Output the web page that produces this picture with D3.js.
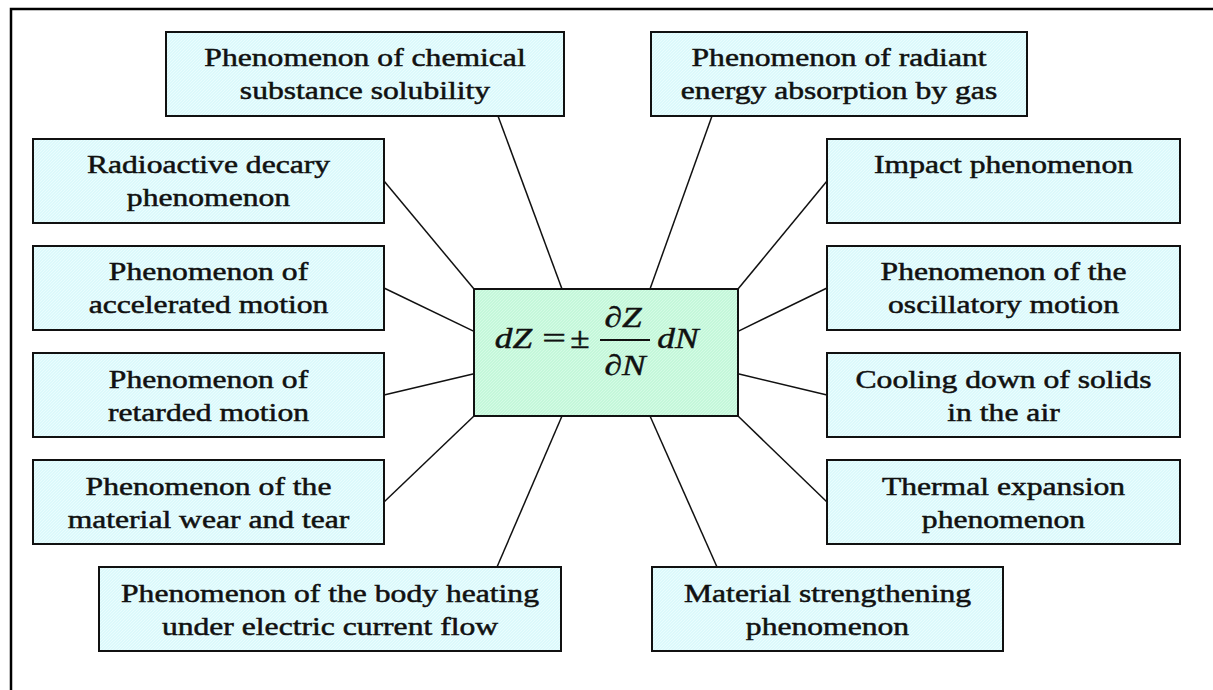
<!DOCTYPE html>
<html>
<head>
<meta charset="utf-8">
<script src="https://cdn.jsdelivr.net/npm/d3@7"></script>
<style>
  html, body { margin: 0; padding: 0; background: #fff; }
  svg { display: block; }
  .lbl { font-family: "Liberation Serif", "Times New Roman", serif; font-size: 25.5px; fill: #111; stroke: #111; stroke-width: 0.5px; }
  .fml { font-family: "Liberation Serif", "Times New Roman", serif; font-size: 29px; fill: #111; stroke: #111; stroke-width: 0.45px; }
</style>
</head>
<body>
<svg width="1213" height="690"></svg>
<script>
// labels of the phenomena (top row, left column, right column, bottom row)
const topLabels = [
  ["Phenomenon of chemical", "substance solubility"],
  ["Phenomenon of radiant", "energy absorption by gas"]
];
const leftLabels = [
  ["Radioactive decary", "phenomenon"],
  ["Phenomenon of", "accelerated motion"],
  ["Phenomenon of", "retarded motion"],
  ["Phenomenon of the", "material wear and tear"]
];
const rightLabels = [
  ["Impact phenomenon"],
  ["Phenomenon of the", "oscillatory motion"],
  ["Cooling down of solids", "in the air"],
  ["Thermal expansion", "phenomenon"]
];
const bottomLabels = [
  ["Phenomenon of the body heating", "under electric current flow"],
  ["Material strengthening", "phenomenon"]
];
const rows = [0, 1, 2, 3, 4, 5];

const svg = d3.select("svg");
const W = 1213, H = 690;
const stretch = 1.24; // text in the picture is widened

// row positions
const y = d3.scaleBand().domain(rows).range([32, 651]).paddingInner(0.215).paddingOuter(0);
const bh = y.bandwidth();

// hatch patterns
const defs = svg.append("defs");
function hatch(id, base, line) {
  const p = defs.append("pattern").attr("id", id)
    .attr("width", 3).attr("height", 3)
    .attr("patternUnits", "userSpaceOnUse");
  p.append("rect").attr("width", 3).attr("height", 3).attr("fill", base);
  p.append("path").attr("d", "M0,3L3,0").attr("stroke", line).attr("stroke-width", 0.8);
}
hatch("cyan", "#dcf9fb", "#eefeff");
hatch("green", "#c4f7da", "#d9fce9");

// outer frame (only top and left visible)
svg.append("path")
  .attr("d", `M11,${H + 5}L11,9L${W + 5},9`)
  .attr("fill", "none").attr("stroke", "#000").attr("stroke-width", 2.5);

// center box
const cb = { x: 474, y: 289, w: 264, h: 127 };

// boxes layout: [x0, x1, row, attach point on box, attach on center]
const boxes = [];
topLabels.forEach((l, i) => {
  const x0 = i === 0 ? 166 : 651, x1 = i === 0 ? 564 : 1027;
  const ax = i === 0 ? 498 : 712;
  boxes.push({ lines: l, x0, x1, row: 0,
    a: [ax, y(0) + bh], c: [cb.x + cb.w * (i + 1) / 3, cb.y] });
});
leftLabels.forEach((l, i) => {
  const r = i + 1;
  boxes.push({ lines: l, x0: 33, x1: 384, row: r,
    a: [384, y(r) + bh / 2], c: [cb.x, cb.y + cb.h * i / 3] });
});
rightLabels.forEach((l, i) => {
  const r = i + 1;
  boxes.push({ lines: l, x0: 827, x1: 1180, row: r,
    a: [827, y(r) + bh / 2], c: [cb.x + cb.w, cb.y + cb.h * i / 3] });
});
bottomLabels.forEach((l, i) => {
  const x0 = i === 0 ? 99 : 652, x1 = i === 0 ? 561 : 1003;
  const ax = i === 0 ? 497 : 717;
  boxes.push({ lines: l, x0, x1, row: 5,
    a: [ax, y(5)], c: [cb.x + cb.w * (i + 1) / 3, cb.y + cb.h] });
});

// connectors
svg.append("g").selectAll("line").data(boxes).join("line")
  .attr("x1", d => d.a[0]).attr("y1", d => d.a[1])
  .attr("x2", d => d.c[0]).attr("y2", d => d.c[1])
  .attr("stroke", "#111").attr("stroke-width", 1.5);

// boxes
const g = svg.append("g").selectAll("g").data(boxes).join("g");
g.append("rect")
  .attr("x", d => d.x0).attr("y", d => y(d.row))
  .attr("width", d => d.x1 - d.x0).attr("height", bh)
  .attr("fill", "url(#cyan)").attr("stroke", "#111").attr("stroke-width", 2);

g.each(function (d) {
  const cx = (d.x0 + d.x1) / 2, cy = y(d.row) + bh / 2;
  d.lines.forEach((t, i) => {
    d3.select(this).append("text")
      .attr("class", "lbl")
      .attr("text-anchor", "middle")
      .attr("transform", `translate(${cx},${cy - 7.5 + i * 33}) scale(${stretch},1)`)
      .text(t);
  });
});

// center box with formula
svg.append("rect")
  .attr("x", cb.x).attr("y", cb.y).attr("width", cb.w).attr("height", cb.h)
  .attr("fill", "url(#green)").attr("stroke", "#111").attr("stroke-width", 2);

const fm = svg.append("g").attr("transform", `translate(${cb.x},${cb.y})`);
const parts = [
  { t: "dZ", x: 39.5, y: 59, it: true },
  { t: "=", x: 80, y: 59, it: false },
  { t: "\u00B1", x: 106, y: 59, it: false },
  { t: "\u2202Z", x: 149, y: 38, it: true },
  { t: "\u2202N", x: 151, y: 86, it: true },
  { t: "dN", x: 204, y: 59, it: true }
];
fm.selectAll("text").data(parts).join("text")
  .attr("class", "fml")
  .attr("text-anchor", "middle")
  .attr("font-style", d => d.it ? "italic" : "normal")
  .attr("transform", d => `translate(${d.x},${d.y}) scale(${d.t === "=" ? 1.45 : 1.22},1)`)
  .text(d => d.t);
fm.append("line")
  .attr("x1", 126).attr("x2", 176).attr("y1", 51).attr("y2", 51)
  .attr("stroke", "#111").attr("stroke-width", 2);
</script>
</body>
</html>
